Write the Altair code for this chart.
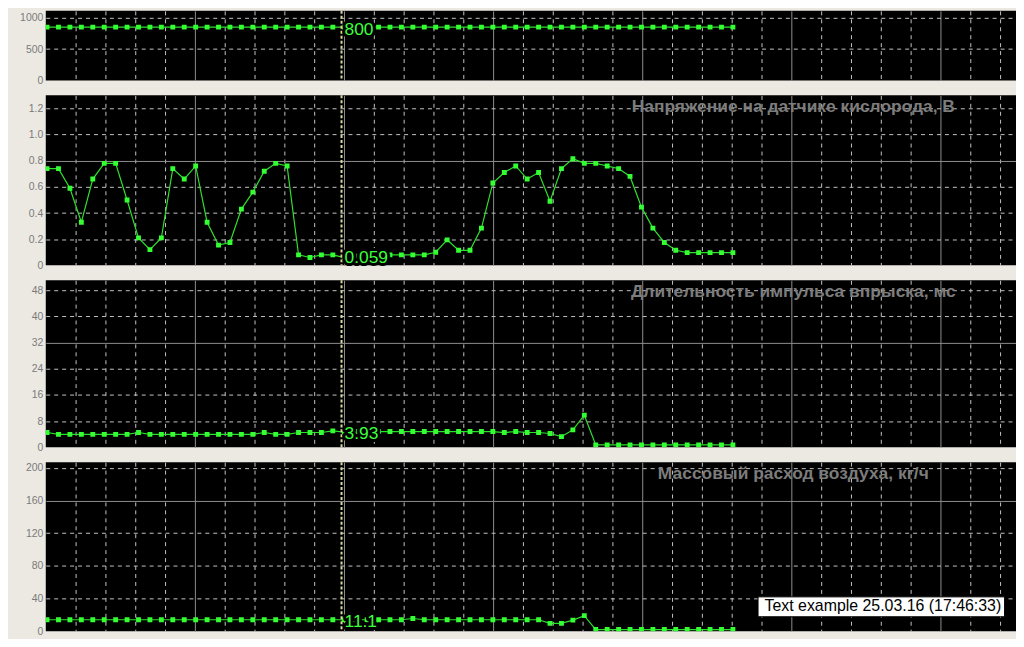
import altair as alt
import pandas as pd

# ---------------- data ----------------
N_SAMPLES = 61
SAMPLE_DT = 0.3833      # grid divisions per sample
T0 = 0.043
time = [round(T0 + i * SAMPLE_DT, 4) for i in range(N_SAMPLES)]

rpm = [850, 850, 850, 850, 850, 850, 850, 850, 850, 850, 850, 850, 850, 850, 850, 850,
       850, 850, 850, 850, 850, 850, 850, 850, 850, 850, 850, 850, 850, 850, 850, 850,
       850, 850, 850, 850, 850, 850, 850, 850, 850, 850, 850, 850, 850, 850, 850, 850,
       850, 850, 850, 850, 850, 850, 850, 850, 850, 850, 850, 850, 850]

o2_voltage = [0.74, 0.74, 0.59, 0.33, 0.66, 0.78, 0.78, 0.50, 0.21, 0.12, 0.21, 0.74,
              0.66, 0.76, 0.33, 0.155, 0.175, 0.43, 0.56, 0.72, 0.78, 0.76, 0.08, 0.06,
              0.08, 0.08, 0.059, 0.07, 0.07, 0.08, 0.08, 0.08, 0.08, 0.08, 0.10, 0.195,
              0.115, 0.115, 0.285, 0.63, 0.71, 0.76, 0.66, 0.71, 0.49, 0.74, 0.815, 0.78,
              0.78, 0.76, 0.74, 0.68, 0.445, 0.285, 0.175, 0.115, 0.097, 0.097, 0.097,
              0.097, 0.097]

injection = [4.5, 3.95, 3.95, 3.95, 3.95, 3.95, 3.95, 3.95, 4.5, 3.95, 3.95, 3.95, 3.95,
             3.95, 3.95, 3.95, 3.95, 3.95, 3.95, 4.5, 3.95, 3.95, 4.5, 4.5, 4.5, 5.0, 4.6,
             4.8, 4.8, 4.8, 4.8, 4.8, 4.8, 4.8, 4.8, 4.8, 4.8, 4.8, 4.8, 4.8, 4.5, 4.8,
             4.5, 4.5, 4.2, 3.25, 5.3, 9.8, 0.7, 0.7, 0.7, 0.7, 0.7, 0.7, 0.7, 0.7, 0.7,
             0.7, 0.7, 0.7, 0.7]

air_flow = [14, 14, 14, 14, 14, 14, 14, 14, 14, 14, 14, 14, 14, 14, 14, 14, 14, 14, 14,
            14, 14, 14, 14, 14, 14, 14, 14, 14, 14, 14, 14, 14, 15.5, 14, 14, 14, 14, 14,
            14, 14, 14, 14, 14, 14, 9.5, 9.5, 13.5, 19, 2, 2, 2, 2, 2, 2, 2, 2, 2, 2, 2,
            2, 2]

cursor_time = 9.917
cursor_labels = ["800", "0.059", "3.93", "11.1"]
cursor_values = [800, 0.059, 3.93, 11.1]

panel_titles = [None,
                "Напряжение на датчике кислорода, В",
                "Длительность импульса впрыска, мс",
                "Массовый расход воздуха, кг/ч"]

y_domains = [[0, 1110], [0, 1.3], [0, 51], [0, 207]]
y_ticks = [[0, 500, 1000],
           [0, 0.2, 0.4, 0.6, 0.8, 1.0, 1.2],
           [0, 8, 16, 24, 32, 40, 48],
           [0, 40, 80, 120, 160, 200]]
y_major = [None, 0.8, 32, 160]
panel_heights = [70, 171, 168, 170]

note_text = "Text example 25.03.16 (17:46:33)"

# ---------------- styling ----------------
BG = "#ece9e3"
MAJOR = "#8e8e8e"
MINOR = "#c4c4c4"
LINE_C = "#2ee02e"
PT_C = "#33ff33"
LAB_C = "#3cff3c"
CUR_C = "#d8d8a0"
PLOT_W = 976
AXIS_W = 38
X_MAX = PLOT_W / 30.0
SPACING = 15

x_axis = alt.Axis(
    values=list(range(1, 33)), labels=False, ticks=False, domain=False, title=None,
    grid=True,
    gridColor={"condition": {"test": "datum.value % 5 === 0", "value": MAJOR}, "value": MINOR},
    gridDash={"condition": {"test": "datum.value % 5 === 0", "value": []}, "value": [4, 4]},
    gridWidth=1, minExtent=0, maxExtent=0,
)
x_enc = alt.X("t:Q", scale=alt.Scale(domain=[0, X_MAX], nice=False, zero=False), axis=x_axis)


def y_axis(values, major, idx):
    test = "false" if major is None else f"datum.value === {major}"
    kw = {}
    if idx == 1:
        kw["labelExpr"] = "datum.value === 0 ? '0' : format(datum.value, '.1f')"
    else:
        kw["format"] = "d"
    return alt.Axis(
        values=values, title=None, ticks=False, domain=False,
        labelColor="#7a7a7a", labelFont="Liberation Sans", labelFontSize=10.5,
        labelPadding=3, minExtent=AXIS_W, maxExtent=AXIS_W,
        grid=True,
        gridColor={"condition": {"test": test, "value": MAJOR}, "value": MINOR},
        gridDash={"condition": {"test": test, "value": []}, "value": [4, 4]},
        gridOpacity={"condition": {"test": "datum.value === 0", "value": 0}, "value": 1},
        **kw,
    )


p4_top = sum(panel_heights[:3]) + 3 * SPACING

series = [rpm, o2_voltage, injection, air_flow]
panels = []
for i, vals in enumerate(series):
    df = pd.DataFrame({"t": time, "v": vals})
    y_enc = alt.Y("v:Q", scale=alt.Scale(domain=y_domains[i], nice=False, zero=False),
                  axis=y_axis(y_ticks[i], y_major[i], i))
    line = alt.Chart(df).mark_line(color=LINE_C, strokeWidth=1.2, clip=True).encode(x=x_enc, y=y_enc)
    pts = alt.Chart(df).mark_square(size=24, color=PT_C, opacity=1, clip=True).encode(x=x_enc, y=y_enc)

    cdf = pd.DataFrame({"t": [cursor_time], "note": [note_text]})
    if i == 3:
        cur = alt.Chart(cdf).mark_rule(strokeDash=[3, 2], strokeWidth=2).encode(
            x=x_enc,
            color=alt.Color("note:N", scale=alt.Scale(range=[CUR_C]),
                            legend=alt.Legend(
                                title=None, orient="none",
                                legendX=716, legendY=p4_top + 135,
                                fillColor="white", strokeColor="black", padding=2,
                                cornerRadius=0, symbolType="circle", symbolSize=0.01,
                                symbolOpacity=0, symbolStrokeWidth=0,
                                labelOffset={"expr": "-11"},
                                labelLimit=0, labelFont="Liberation Sans",
                                labelFontSize=16, labelColor="black")))
    else:
        cur = alt.Chart(cdf).mark_rule(color=CUR_C, strokeDash=[3, 2], strokeWidth=2).encode(x=x_enc)

    ldf = pd.DataFrame({"t": [cursor_time], "v": [cursor_values[i]], "txt": [cursor_labels[i]]})
    halo = alt.Chart(ldf).mark_text(align="left", baseline="middle", dx=3, fontSize=17.5,
                                    font="Liberation Sans", color="black", stroke="black",
                                    strokeWidth=6, strokeJoin="round").encode(
        x=x_enc, y=y_enc, text="txt:N")
    lab = alt.Chart(ldf).mark_text(align="left", baseline="middle", dx=3, fontSize=17.5,
                                   font="Liberation Sans", color=LAB_C).encode(
        x=x_enc, y=y_enc, text="txt:N")

    layers = [line, pts, cur, halo, lab]
    if panel_titles[i]:
        tdf = pd.DataFrame({"title": [panel_titles[i]]})
        ttl = alt.Chart(tdf).mark_text(align="center", baseline="middle", fontSize=17.5,
                                       fontWeight="bold", font="Liberation Sans",
                                       color="#7c7c7c").encode(
            x=alt.value(752), y=alt.value(12), text="title:N")
        layers.insert(0, ttl)
    panels.append(alt.layer(*layers).properties(width=PLOT_W, height=panel_heights[i]))

chart = alt.vconcat(*panels, spacing=SPACING, bounds="flush").properties(
    background=BG,
    padding={"left": 0, "top": 0, "right": 0, "bottom": 0},
).configure_view(fill="black", stroke=None)

chart.save("out.html", embed_options={"renderer": "svg", "actions": False})
